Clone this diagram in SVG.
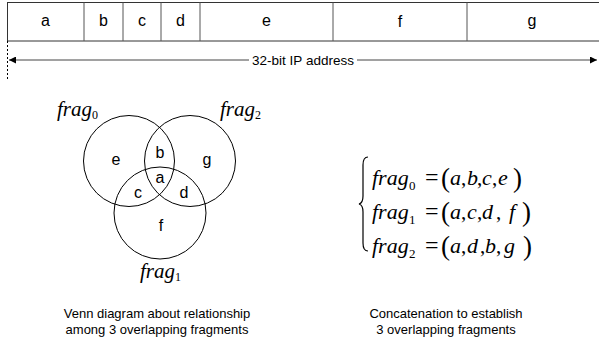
<svg xmlns="http://www.w3.org/2000/svg" width="599" height="345" viewBox="0 0 599 345">
<style>
.box{fill:none;stroke:#333;stroke-width:1}
.div{stroke:#555;stroke-width:1}
.lbl{font-family:"Liberation Sans",Arial,sans-serif;font-size:16px;fill:#000;text-anchor:middle}
.cap{font-family:"Liberation Sans",Arial,sans-serif;font-size:13px;fill:#000;text-anchor:middle}
.circ{fill:none;stroke:#000;stroke-width:1}
.m{font-family:"Liberation Serif","Times New Roman",serif;font-style:italic;fill:#000;font-size:22px}
.vm{font-family:"Liberation Serif","Times New Roman",serif;font-style:italic;fill:#000;font-size:21px}
.r{font-family:"Liberation Serif","Times New Roman",serif;font-style:normal;fill:#000}
.sub{font-size:13px}
.eq{font-size:24px}
.par{font-size:27px}
.com{font-size:21px}
</style>
<defs>
<marker id="ah" markerWidth="8" markerHeight="7" refX="7" refY="3.5" orient="auto-start-reverse" markerUnits="userSpaceOnUse">
<path d="M0,0 L7,3.5 L0,7 Z" fill="#000"/>
</marker>
</defs>
<g id="ip-address">
<rect class="box" x="7.5" y="2.5" width="593" height="38.5"/>
<line class="div" x1="84" y1="2.5" x2="84" y2="41"/>
<line class="div" x1="123" y1="2.5" x2="123" y2="41"/>
<line class="div" x1="161" y1="2.5" x2="161" y2="41"/>
<line class="div" x1="200" y1="2.5" x2="200" y2="41"/>
<line class="div" x1="333" y1="2.5" x2="333" y2="41"/>
<line class="div" x1="467" y1="2.5" x2="467" y2="41"/>
<text class="lbl" x="45.5" y="26">a</text>
<text class="lbl" x="103.5" y="26">b</text>
<text class="lbl" x="142" y="26">c</text>
<text class="lbl" x="180.5" y="26">d</text>
<text class="lbl" x="266.5" y="26">e</text>
<text class="lbl" x="400" y="27">f</text>
<text class="lbl" x="532" y="26">g</text>
</g>
<g id="connectors">
<line x1="7.5" y1="41" x2="7.5" y2="79" stroke="#000" stroke-width="1" stroke-dasharray="2,2"/>
<line x1="9" y1="60" x2="597" y2="60" stroke="#444" stroke-width="1" marker-start="url(#ah)" marker-end="url(#ah)"/>
<rect x="249" y="52" width="108" height="15" fill="#fff"/>
<text class="cap" x="303" y="64.5" style="font-size:13.5px">32-bit IP address</text>
</g>
<g id="venn">
<circle class="circ" cx="129" cy="161" r="45.5"/>
<circle class="circ" cx="190" cy="161" r="45.5"/>
<circle class="circ" cx="160" cy="213" r="46"/>
<text class="lbl" x="116" y="165">e</text>
<text class="lbl" x="160" y="158">b</text>
<text class="lbl" x="207" y="165">g</text>
<text class="lbl" x="160" y="183">a</text>
<text class="lbl" x="138" y="198">c</text>
<text class="lbl" x="184" y="198">d</text>
<text class="lbl" x="161" y="231">f</text>
<text class="vm" x="57" y="116">frag<tspan class="r" font-size="12" dy="3">0</tspan></text>
<text class="vm" x="220" y="116">frag<tspan class="r" font-size="12" dy="3">2</tspan></text>
<text class="vm" x="140" y="278">frag<tspan class="r" font-size="12" dy="3">1</tspan></text>
</g>
<g id="equations">
<path d="M368,157 Q363,157 363,165 L363,196 Q363,203 359,204 Q363,205 363,212 L363,243 Q363,251 368,251" fill="none" stroke="#000" stroke-width="1.2"/>
<g>
<text class="m" x="372" y="185">frag</text><text class="r sub" x="409" y="190">0</text>
<text class="r eq" x="425" y="185">=</text>
<text class="r par" x="441" y="187">(</text>
<text class="m" x="450" y="185">a</text><text class="r com" x="461" y="185">,</text>
<text class="m" x="467" y="185">b</text><text class="r com" x="477" y="185">,</text>
<text class="m" x="482" y="185">c</text><text class="r com" x="492" y="185">,</text>
<text class="m" x="498" y="185">e</text>
<text class="r par" x="513" y="187">)</text>
</g>
<g>
<text class="m" x="372" y="219">frag</text><text class="r sub" x="409" y="224">1</text>
<text class="r eq" x="425" y="219">=</text>
<text class="r par" x="441" y="221">(</text>
<text class="m" x="450" y="219">a</text><text class="r com" x="461" y="219">,</text>
<text class="m" x="467" y="219">c</text><text class="r com" x="477" y="219">,</text>
<text class="m" x="482" y="219">d</text><text class="r com" x="496" y="219">,</text>
<text class="m" x="509" y="219">f</text>
<text class="r par" x="522" y="221">)</text>
</g>
<g>
<text class="m" x="372" y="253">frag</text><text class="r sub" x="409" y="258">2</text>
<text class="r eq" x="425" y="253">=</text>
<text class="r par" x="441" y="255">(</text>
<text class="m" x="450" y="253">a</text><text class="r com" x="461" y="253">,</text>
<text class="m" x="467" y="253">d</text><text class="r com" x="480" y="253">,</text>
<text class="m" x="485" y="253">b</text><text class="r com" x="496" y="253">,</text>
<text class="m" x="504" y="253">g</text>
<text class="r par" x="523" y="255">)</text>
</g>
</g>
<g id="captions">
<text class="cap" x="157" y="318">Venn diagram about relationship</text>
<text class="cap" x="157" y="334">among 3 overlapping fragments</text>
<text class="cap" x="446" y="318">Concatenation to establish</text>
<text class="cap" x="446" y="334">3 overlapping fragments</text>
</g>
</svg>
